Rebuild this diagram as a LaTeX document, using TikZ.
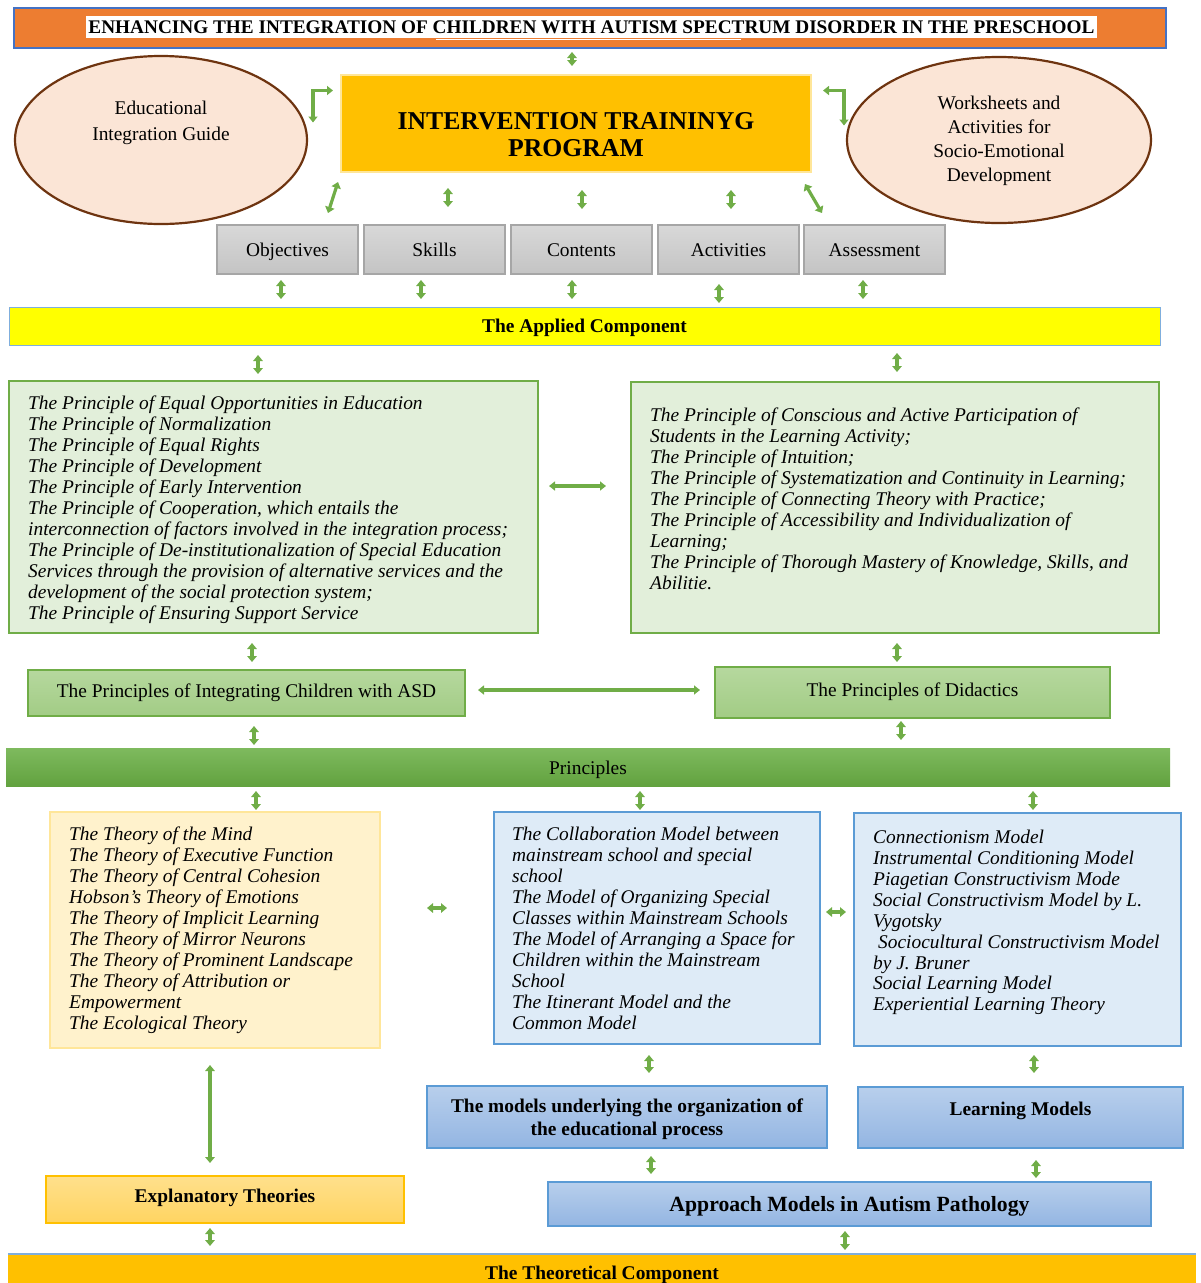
\documentclass[tikz,border=0pt]{standalone}
\usepackage{fontspec}
\setmainfont{Liberation Serif}
\usetikzlibrary{arrows.meta,shapes.geometric}
\definecolor{orng}{HTML}{ED7D31}
\definecolor{tblue}{HTML}{4472C4}
\definecolor{ellfill}{HTML}{FBE5D6}
\definecolor{ellbrd}{HTML}{6E3410}
\definecolor{gold}{HTML}{FFC000}
\definecolor{goldbrd}{HTML}{FFE699}
\definecolor{greyT}{HTML}{D8D8D8}
\definecolor{greyB}{HTML}{C4C4C4}
\definecolor{greyBrd}{HTML}{A6A6A6}
\definecolor{yel}{HTML}{FFFF00}
\definecolor{ltbrd}{HTML}{7FAEDD}
\definecolor{lgreen}{HTML}{E2EFDA}
\definecolor{gbrd}{HTML}{70AD47}
\definecolor{mgreenT}{HTML}{B6D89E}
\definecolor{mgreenB}{HTML}{A2CC85}
\definecolor{pbarT}{HTML}{7EBA5E}
\definecolor{pbarB}{HTML}{62A23F}
\definecolor{lyel}{HTML}{FFF2CC}
\definecolor{lblue}{HTML}{DEEBF7}
\definecolor{bbrd}{HTML}{5B9BD5}
\definecolor{bT}{HTML}{B8CFEC}
\definecolor{bB}{HTML}{93B5E2}
\definecolor{eT}{HTML}{FFE08C}
\definecolor{eB}{HTML}{FFD461}
\definecolor{arrgreen}{HTML}{70AD47}
\begin{document}
\begin{tikzpicture}[x=1pt,y=-1pt,
  box/.style={rectangle, inner sep=0pt, outer sep=0pt},
  ell/.style={ellipse, inner sep=0pt, draw=ellbrd, line width=2.2pt, fill=ellfill},
  greybox/.style={box, draw=greyBrd, line width=1.2pt, top color=greyT, bottom color=greyB, minimum width=141pt, minimum height=49pt, font=\fontsize{19.4}{21}\selectfont, text height=14pt, text depth=0pt},
  listbox/.style={box, line width=2pt},
  itxt/.style={anchor=north west, inner sep=0pt, align=left, font=\fontsize{19.4}{21}\selectfont\itshape},
  rtxt/.style={inner sep=0pt, align=center, font=\fontsize{19.4}{21}\selectfont},
  btxt/.style={inner sep=0pt, align=center, font=\fontsize{19.4}{23}\selectfont\bfseries},
  arr/.style={draw=arrgreen, line width=3.2pt, {Triangle[length=6pt,width=9.5pt]}-{Triangle[length=6pt,width=9.5pt]}},
  harr/.style={draw=arrgreen, line width=3.2pt, {Triangle[length=6pt,width=9pt]}-{Triangle[length=6pt,width=9pt]}}
]
\useasboundingbox (0,0) rectangle (1200,1283);

% title
\node[box, draw=tblue, line width=1.5pt, fill=orng, minimum width=1152pt, minimum height=40pt] (title) at (590,28) {};
\node[box, fill=white, minimum width=1011pt, minimum height=22pt] (titlebg) at (591.5,27) {};
\node[inner sep=0pt] (titletxt) at (591.5,27.5) {\resizebox{1006pt}{!}{\bfseries ENHANCING THE INTEGRATION OF CHILDREN WITH AUTISM SPECTRUM DISORDER IN THE PRESCHOOL}};
\draw[white, line width=1pt] (titlebg.south west) ++(350,1.5) -- ++(305,0);

% ellipses
\node[ell, minimum width=292pt, minimum height=168pt] (guide) at (161,140) {};
\node[rtxt, font=\fontsize{19.4}{26}\selectfont] (guidetxt) at (161,123) {Educational\\Integration Guide};
\node[ell, minimum width=304pt, minimum height=166pt] (sheets) at (999,140) {};
\node[rtxt, font=\fontsize{19.4}{24}\selectfont] (sheetstxt) at (999,141) {Worksheets and\\Activities for\\Socio-Emotional\\Development};

% program
\node[box, draw=goldbrd, line width=1.5pt, fill=gold, minimum width=470pt, minimum height=97pt] (prog) at (576,123.5) {};
\node[inner sep=0pt, align=center, font=\fontsize{25.7}{27}\selectfont\bfseries] (progtxt) at (576,135) {INTERVENTION TRAININYG\\PROGRAM};

% grey row
\node[greybox] (obj) at (287.5,249.5) {Objectives};
\node[greybox] (skills) at (434.5,249.5) {Skills};
\node[greybox] (cont) at (581.5,249.5) {Contents};
\node[greybox] (act) at (728.5,249.5) {Activities};
\node[greybox] (assess) at (874.5,249.5) {Assessment};

% applied component
\node[box, draw=ltbrd, line width=1pt, fill=yel, minimum width=1151pt, minimum height=38pt, font=\fontsize{19.4}{21}\selectfont\bfseries, text height=13pt, text depth=0pt] (applied) at (584.5,326) {The Applied Component};

% principle lists
\node[listbox, draw=gbrd, fill=lgreen, minimum width=529pt, minimum height=252pt] (pleft) at (273.5,507) {};
\node[itxt] (plefttxt) at (28,396) {The Principle of Equal Opportunities in Education\\
The Principle of Normalization\\
The Principle of Equal Rights\\
The Principle of Development\\
The Principle of Early Intervention\\
The Principle of Cooperation, which entails the\\
interconnection of factors involved in the integration process;\\
The Principle of De-institutionalization of Special Education\\
Services through the provision of alternative services and the\\
development of the social protection system;\\
The Principle of Ensuring Support Service};
\node[listbox, draw=gbrd, fill=lgreen, minimum width=528pt, minimum height=251pt] (pright) at (895,507.5) {};
\node[itxt] (prighttxt) at (650,408) {The Principle of Conscious and Active Participation of\\
Students in the Learning Activity;\\
The Principle of Intuition;\\
The Principle of Systematization and Continuity in Learning;\\
The Principle of Connecting Theory with Practice;\\
The Principle of Accessibility and Individualization of\\
Learning;\\
The Principle of Thorough Mastery of Knowledge, Skills, and\\
Abilitie.};

% principle headers
\node[box, draw=gbrd, line width=1.2pt, top color=mgreenT, bottom color=mgreenB, minimum width=437pt, minimum height=46pt, font=\fontsize{19.4}{21}\selectfont, text height=9pt, text depth=0pt] (pasd) at (246.5,693) {The Principles of Integrating Children with ASD};
\node[box, draw=gbrd, line width=1.2pt, top color=mgreenT, bottom color=mgreenB, minimum width=395pt, minimum height=51pt, font=\fontsize{19.4}{21}\selectfont, text height=8pt, text depth=0pt] (pdid) at (912.5,692.5) {The Principles of Didactics};

% principles bar
\node[box, top color=pbarT, bottom color=pbarB, minimum width=1164pt, minimum height=38pt, font=\fontsize{19.4}{21}\selectfont, text height=15pt, text depth=0pt] (principles) at (588,767) {Principles};

% theories / models
\node[listbox, draw=goldbrd, fill=lyel, minimum width=330pt, minimum height=236pt] (theor) at (215,930) {};
\node[itxt] (theortxt) at (69,827) {The Theory of the Mind\\
The Theory of Executive Function\\
The Theory of Central Cohesion\\
Hobson’s Theory of Emotions\\
The Theory of Implicit Learning\\
The Theory of Mirror Neurons\\
The Theory of Prominent Landscape\\
The Theory of Attribution or\\
Empowerment\\
The Ecological Theory};
\node[listbox, draw=bbrd, fill=lblue, minimum width=326pt, minimum height=232pt] (models) at (657,928) {};
\node[itxt] (modelstxt) at (512,827) {The Collaboration Model between\\
mainstream school and special\\
school\\
The Model of Organizing Special\\
Classes within Mainstream Schools\\
The Model of Arranging a Space for\\
Children within the Mainstream\\
School\\
The Itinerant Model and the\\
Common Model};
\node[listbox, draw=bbrd, fill=lblue, minimum width=327pt, minimum height=233pt] (learn) at (1017.5,929.5) {};
\node[itxt, font=\fontsize{19.4}{20.9}\selectfont\itshape] (learntxt) at (873,830) {Connectionism Model\\
Instrumental Conditioning Model\\
Piagetian Constructivism Mode\\
Social Constructivism Model by L.\\
Vygotsky\\
\hspace*{5pt}Sociocultural Constructivism Model\\
by J. Bruner\\
Social Learning Model\\
Experiential Learning Theory};

% blue headers
\node[box, draw=bbrd, line width=1.2pt, top color=bT, bottom color=bB, minimum width=400pt, minimum height=62pt] (morg) at (627,1117) {};
\node[btxt] (morgtxt) at (627,1119.5) {The models underlying the organization of\\the educational process};
\node[box, draw=bbrd, line width=1.2pt, top color=bT, bottom color=bB, minimum width=325pt, minimum height=61pt] (lmod) at (1020.5,1117.5) {};
\node[btxt, text height=13pt, text depth=0pt] (lmodtxt) at (1020.5,1109) {Learning Models};
\node[box, draw=gold, line width=1.2pt, top color=eT, bottom color=eB, minimum width=358pt, minimum height=47pt, font=\fontsize{19.4}{21}\selectfont\bfseries, text height=6pt, text depth=0pt] (expl) at (225,1199.5) {Explanatory Theories};
\node[box, draw=bbrd, line width=1.2pt, top color=bT, bottom color=bB, minimum width=603pt, minimum height=44pt, font=\fontsize{21.7}{23}\selectfont\bfseries, text height=14.4pt, text depth=0pt] (appr) at (849.5,1204) {Approach Models in Autism Pathology};

% theoretical component
\node[box, fill=gold, minimum width=1188pt, minimum height=38pt] (theo) at (602,1273) {};
\draw[ltbrd, line width=1.5pt] (theo.north west) -- (theo.north east);
\node[inner sep=0pt, font=\fontsize{19.4}{21}\selectfont\bfseries, text height=13pt, text depth=0pt] (theotxt) at (602,1273) {The Theoretical Component};

% connectors: top
\draw[arr, shorten <=4pt, shorten >=9pt] ([xshift=-18pt]title.south) -- ([xshift=-18pt]title.south |- prog.north);
\draw[harr] ([shift={(-28,-1)}]prog.west) |- ([shift={(-8,-33)}]prog.west);
\draw[harr] ([shift={(12,-33)}]prog.east) -| ([shift={(33,2)}]prog.east);
\draw[arr] ([shift={(-3,10)}]prog.south west) -- ([shift={(-30,-12)}]obj.north east);
\draw[arr] ([shift={(-6,12)}]prog.south east) -- ([shift={(18,-12)}]assess.north west);
\draw[arr, shorten <=16pt, shorten >=18pt] ([xshift=13.5pt]skills.north |- prog.south) -- ([xshift=13.5pt]skills.north);
\draw[arr, shorten <=18pt, shorten >=16pt] ([xshift=0.5pt]cont.north |- prog.south) -- ([xshift=0.5pt]cont.north);
\draw[arr, shorten <=18pt, shorten >=16pt] ([xshift=2.5pt]act.north |- prog.south) -- ([xshift=2.5pt]act.north);

% boxes to applied
\draw[arr, shorten <=6pt, shorten >=8pt] ([xshift=-6.5pt]obj.south) -- ([xshift=-6.5pt]obj.south |- applied.north);
\draw[arr, shorten <=6pt, shorten >=8pt] ([xshift=-13.5pt]skills.south) -- ([xshift=-13.5pt]skills.south |- applied.north);
\draw[arr, shorten <=6pt, shorten >=8pt] ([xshift=-9.5pt]cont.south) -- ([xshift=-9.5pt]cont.south |- applied.north);
\draw[arr, shorten <=10pt, shorten >=4pt] ([xshift=-9.5pt]act.south) -- ([xshift=-9.5pt]act.south |- applied.north);
\draw[arr, shorten <=6pt, shorten >=8pt] ([xshift=-11.5pt]assess.south) -- ([xshift=-11.5pt]assess.south |- applied.north);

% applied to lists
\draw[arr, shorten <=10pt, shorten >=7pt] ([xshift=-15.5pt]pleft.north |- applied.south) -- ([xshift=-15.5pt]pleft.north);
\draw[arr, shorten <=8pt, shorten >=10pt] ([xshift=2pt]pright.north |- applied.south) -- ([xshift=2pt]pright.north);
\draw[harr, shorten <=11pt, shorten >=25pt] ([yshift=21pt]pleft.east) -- ([yshift=21pt]pleft.east -| pright.west);

% lists to headers
\draw[arr, shorten <=10pt, shorten >=8pt] ([xshift=5.5pt]pasd.north |- pleft.south) -- ([xshift=5.5pt]pasd.north);
\draw[arr, shorten <=10pt, shorten >=5pt] ([xshift=-15.5pt]pdid.north |- pright.south) -- ([xshift=-15.5pt]pdid.north);
\draw[harr, shorten <=13pt, shorten >=15pt] ([yshift=3pt]pasd.east) -- ([yshift=3pt]pasd.east -| pdid.west);

% headers to principles
\draw[arr, shorten <=10pt, shorten >=3pt] ([xshift=7.5pt]pasd.south) -- ([xshift=7.5pt]pasd.south |- principles.north);
\draw[arr, shorten <=3pt, shorten >=8pt] ([xshift=-11.5pt]pdid.south) -- ([xshift=-11.5pt]pdid.south |- principles.north);

% principles to lower boxes
\draw[arr, shorten <=5pt, shorten >=2pt] ([xshift=41pt]theor.north |- principles.south) -- ([xshift=41pt]theor.north);
\draw[arr, shorten <=5pt, shorten >=2pt] ([xshift=-17pt]models.north |- principles.south) -- ([xshift=-17pt]models.north);
\draw[arr, shorten <=5pt, shorten >=3pt] ([xshift=15.5pt]learn.north |- principles.south) -- ([xshift=15.5pt]learn.north);
\draw[arr, shorten <=47pt, shorten >=47pt] ([yshift=22pt]theor.east) -- ([yshift=22pt]theor.east -| models.west);
\draw[arr, shorten <=6pt, shorten >=8pt] ([yshift=16pt]models.east) -- ([yshift=16pt]models.east -| learn.west);

% lower boxes to headers
\draw[arr, shorten <=17pt, shorten >=13pt] ([xshift=-15pt]expl.north |- theor.south) -- ([xshift=-15pt]expl.north);
\draw[arr, shorten <=11pt, shorten >=13pt] ([xshift=22pt]morg.north |- models.south) -- ([xshift=22pt]morg.north);
\draw[arr, shorten <=9pt, shorten >=14pt] ([xshift=13.5pt]lmod.north |- learn.south) -- ([xshift=13.5pt]lmod.north);
\draw[arr, shorten <=8pt, shorten >=8pt] ([xshift=24pt]morg.south) -- ([xshift=24pt]morg.south |- appr.north);
\draw[arr, shorten <=12pt, shorten >=4pt] ([xshift=15.5pt]lmod.south) -- ([xshift=15.5pt]lmod.south |- appr.north);
\draw[arr, shorten <=5pt, shorten >=8pt] ([xshift=-15pt]expl.south) -- ([xshift=-15pt]expl.south |- theo.north);
\draw[arr, shorten <=5pt, shorten >=4pt] ([xshift=-4.5pt]appr.south) -- ([xshift=-4.5pt]appr.south |- theo.north);
\end{tikzpicture}
\end{document}
